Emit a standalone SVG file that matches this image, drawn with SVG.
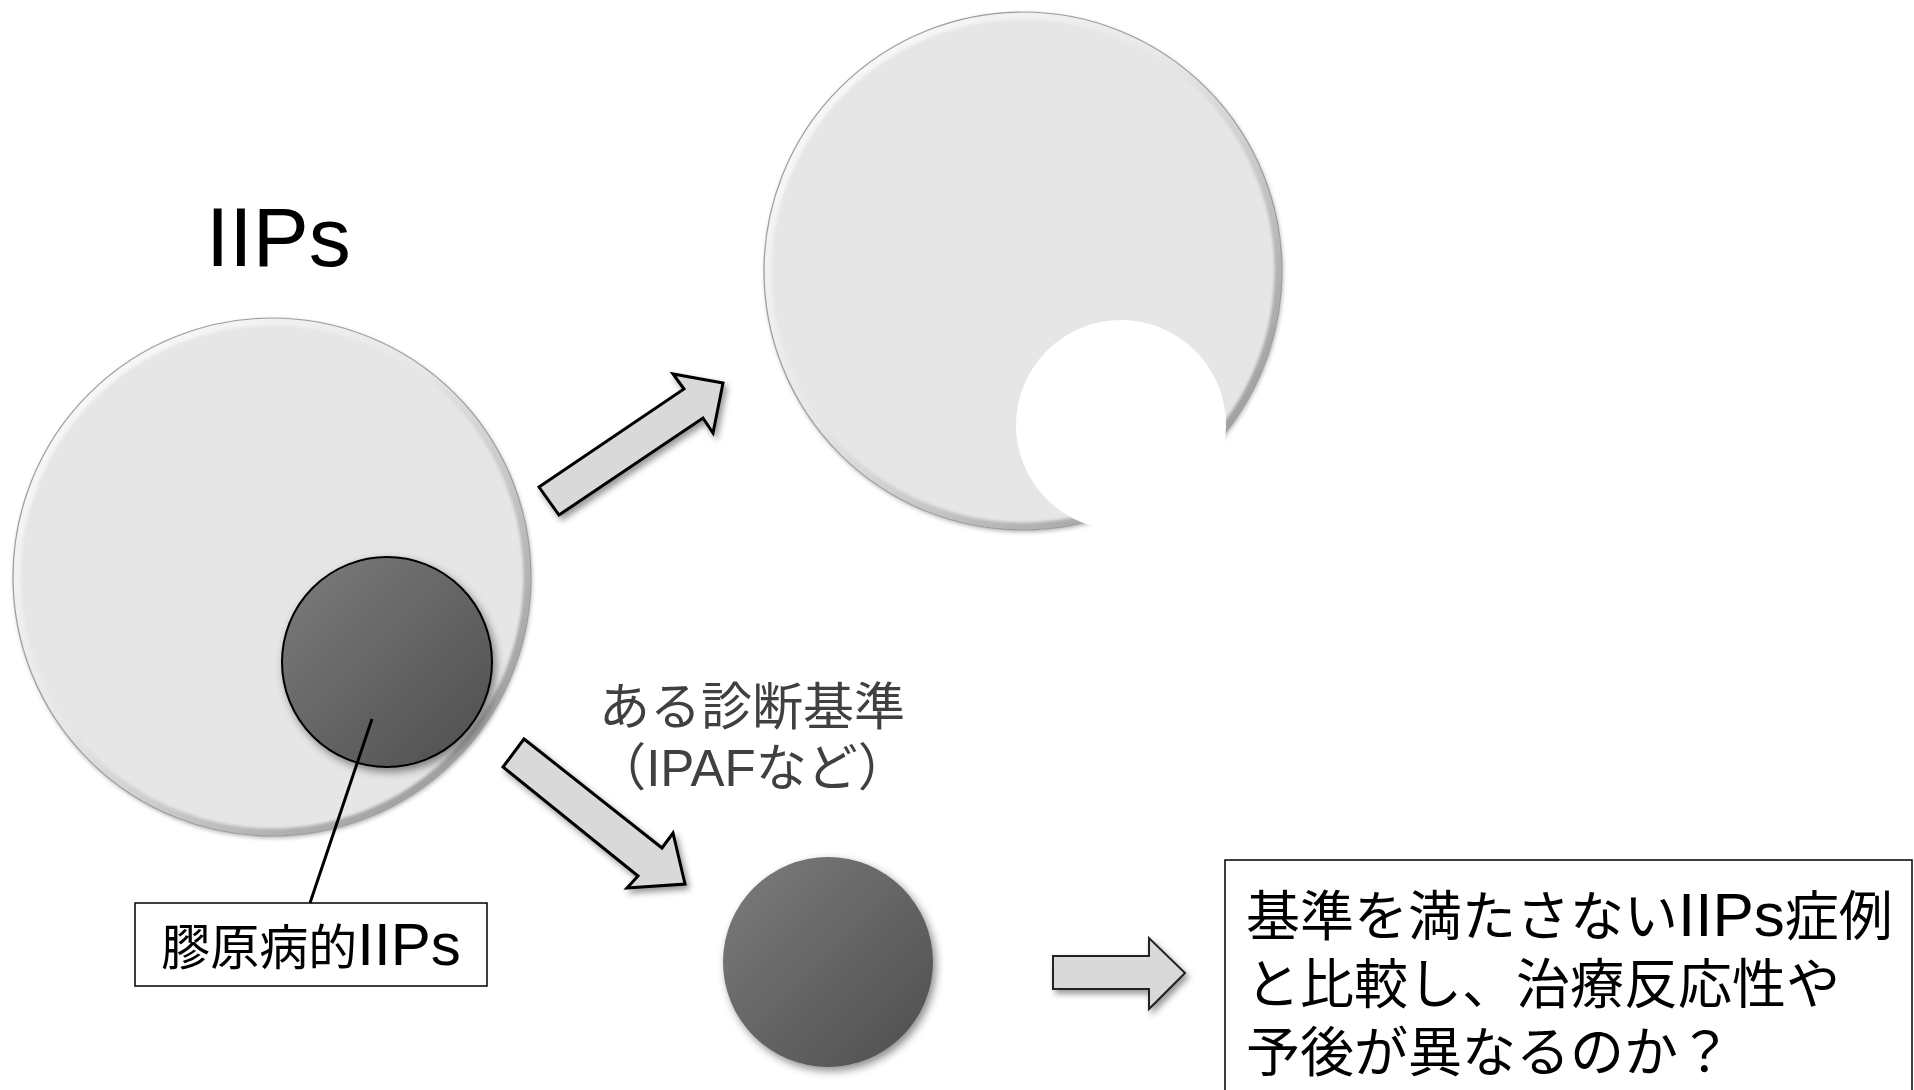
<svg xmlns="http://www.w3.org/2000/svg" width="1914" height="1090" viewBox="0 0 1914 1090">
<defs>
<style>
.t{font-family:'Liberation Sans','Noto Sans CJK JP',sans-serif;}
.arrow{fill:#d9d9d9;stroke:#000;stroke-width:3;stroke-linejoin:miter;filter:url(#sh)}
.big{fill:#e6e6e6;filter:url(#bigsh)}
.ring{fill:none;stroke:url(#ringG);stroke-width:9;filter:url(#blur)}
.edge{fill:none;stroke:#9c9c9c;stroke-width:1.2}
.dark{fill:url(#darkG);filter:url(#dsh)}
</style>
<linearGradient id="ringG" x1="0" y1="0" x2="1" y2="1">
<stop offset="0" stop-color="#ffffff"/>
<stop offset="0.45" stop-color="#e6e6e6"/>
<stop offset="1" stop-color="#888888"/>
</linearGradient>
<linearGradient id="darkG" x1="0" y1="0" x2="1" y2="1">
<stop offset="0" stop-color="#7c7c7c"/>
<stop offset="1" stop-color="#4e4e4e"/>
</linearGradient>
<filter id="blur" x="-10%" y="-10%" width="120%" height="120%"><feGaussianBlur stdDeviation="1.8"/></filter>
<filter id="bigsh" x="-10%" y="-10%" width="120%" height="120%"><feDropShadow dx="1" dy="2" stdDeviation="2" flood-color="#000" flood-opacity="0.3"/></filter>
<filter id="dsh" x="-20%" y="-20%" width="140%" height="140%"><feDropShadow dx="3" dy="4" stdDeviation="4" flood-color="#000" flood-opacity="0.45"/></filter>
<filter id="sh" x="-20%" y="-20%" width="140%" height="140%"><feDropShadow dx="3" dy="4" stdDeviation="3" flood-color="#000" flood-opacity="0.4"/></filter>
<clipPath id="c1"><circle cx="272" cy="577" r="259"/></clipPath>
<clipPath id="c2"><circle cx="1023" cy="271" r="259"/></clipPath>
</defs>
<rect width="1914" height="1090" fill="#fff"/>

<g id="iips-title">
<text class="t" x="206" y="266" font-size="84" fill="#000">IIPs</text>
</g>

<g id="iips-circle">
<circle class="big" cx="272" cy="577" r="259"/>
<circle class="ring" cx="272" cy="577" r="256" clip-path="url(#c1)"/>
<circle class="edge" cx="272" cy="577" r="259"/>
</g>

<g id="collagen-circle">
<circle class="dark" cx="387" cy="662" r="105" stroke="#000" stroke-width="2"/>
</g>

<g id="upper-circle">
<circle class="big" cx="1023" cy="271" r="259"/>
<circle class="ring" cx="1023" cy="271" r="256" clip-path="url(#c2)"/>
<circle class="edge" cx="1023" cy="271" r="259"/>
<circle cx="1121" cy="425" r="105" fill="#fff"/>
</g>

<g id="lower-circle">
<circle class="dark" cx="828" cy="962" r="105"/>
</g>

<g id="criteria-label">
<text class="t" x="752" y="725" font-size="51" fill="#404040" text-anchor="middle">ある診断基準</text>
<text class="t" x="752" y="786" font-size="51" fill="#404040" text-anchor="middle">（IPAFなど）</text>
</g>

<g id="collagen-label">
<rect x="135" y="903" width="352" height="83" fill="#fff" stroke="#000" stroke-width="1.5"/>
<text class="t" x="311" y="965" font-size="49" fill="#000" text-anchor="middle">膠原病的<tspan font-size="60">IIPs</tspan></text>
</g>

<g id="question-box">
<rect x="1225" y="860" width="687" height="240" fill="#fff" stroke="#000" stroke-width="1.5"/>
<text class="t" x="1246" y="936" font-size="54" fill="#000">基準を満たさない<tspan font-size="62">IIPs</tspan>症例</text>
<text class="t" x="1246" y="1004" font-size="54" fill="#000">と比較し、治療反応性や</text>
<text class="t" x="1246" y="1072" font-size="54" fill="#000">予後が異なるのか？</text>
</g>

<g id="connectors">
<line x1="372" y1="719" x2="310" y2="903" stroke="#000" stroke-width="3"/>
<polygon class="arrow" points="539,487 684,389 673,374 723,383 713,433 703,418 559,515"/>
<polygon class="arrow" points="524,739 662,848 673,833 685,884 627,888 638,876 503,767"/>
<polygon class="arrow" style="stroke-width:2;stroke:#222" points="1053,956 1149,956 1149,938 1185,973 1149,1009 1149,989 1053,989"/>
</g>
</svg>
